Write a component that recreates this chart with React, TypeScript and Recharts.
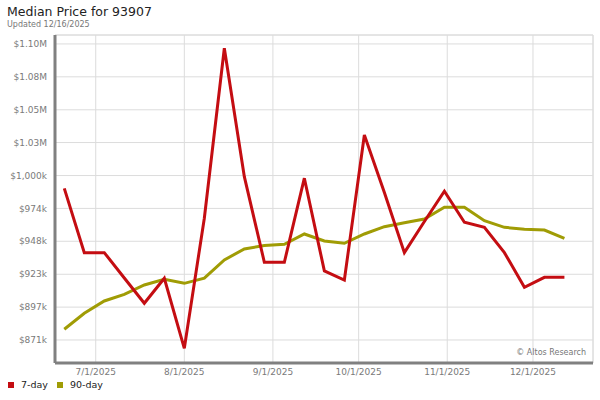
import React from 'react';
import { LineChart, Line, XAxis, YAxis, CartesianGrid, ReferenceLine } from 'recharts';

const dates = [
  '2025-06-20', '2025-06-27', '2025-07-04', '2025-07-11', '2025-07-18', '2025-07-25',
  '2025-08-01', '2025-08-08', '2025-08-15', '2025-08-22', '2025-08-29', '2025-09-05',
  '2025-09-12', '2025-09-19', '2025-09-26', '2025-10-03', '2025-10-10', '2025-10-17',
  '2025-10-24', '2025-10-31', '2025-11-07', '2025-11-14', '2025-11-21', '2025-11-28',
  '2025-12-05', '2025-12-12',
];

const sevenDay = [
  989800, 939500, 939500, 919700, 899900, 919500, 864700, 966400, 1099300, 998900,
  932000, 932000, 997700, 925200, 918100, 1031500, 986600, 939500, 963900, 987500,
  963300, 959300, 939500, 912400, 920200, 920200,
];

const ninetyDay = [
  879600, 892100, 901700, 906900, 914200, 918700, 915500, 919500, 933800, 942400,
  945000, 946000, 954100, 948600, 946800, 954100, 959800, 962900, 965800, 975000,
  975000, 964500, 959300, 957800, 957200, 950700,
];

const monthTicks = ['2025-07-01', '2025-08-01', '2025-09-01', '2025-10-01', '2025-11-01', '2025-12-01'];
const priceTicks = [871200, 896900, 922600, 948400, 974100, 999800, 1025600, 1051200, 1077000, 1102700];

const RED = '#c40d12';
const OLIVE = '#a09c05';
const DAY = 86400000;

const toTime = (s: string) => Date.parse(s + 'T00:00:00Z');

const data = dates.map((d, i) => ({ t: toTime(d), sevenDay: sevenDay[i], ninetyDay: ninetyDay[i] }));

const xMin = toTime(dates[0]) - 3.25 * DAY;
const xMax = toTime(dates[0]) + 185 * DAY;
const yMin = 853200;
const yMax = 1109700;

const fmtDate = (v: number) => {
  const d = new Date(v);
  return `${d.getUTCMonth() + 1}/${d.getUTCDate()}/${d.getUTCFullYear()}`;
};

const fmtPrice = (v: number) =>
  v >= 1000000 ? `$${(v / 1000000).toFixed(2)}M` : `$${Math.round(v / 1000).toLocaleString('en-US')}k`;

const font = '"DejaVu Sans", Verdana, sans-serif';
const tickStyle = { fontSize: 9, fill: '#7a7a7a', fontFamily: font };

const legendItems = [
  { name: '7-day', color: RED },
  { name: '90-day', color: OLIVE },
];

export default function App() {
  return (
    <div style={{ position: 'absolute', left: 0, top: 0, width: 600, height: 400, fontFamily: font, background: '#fff' }}>
      <div style={{ position: 'absolute', left: 7, top: 4, fontSize: 12.5, color: '#222', whiteSpace: 'nowrap' }}>
        Median Price for 93907
      </div>
      <div style={{ position: 'absolute', left: 7, top: 20, fontSize: 8, color: '#777', whiteSpace: 'nowrap' }}>
        Updated 12/16/2025
      </div>
      <LineChart width={600} height={400} data={data} margin={{ top: 35, right: 7, left: 0, bottom: 15 }}>
        <CartesianGrid stroke="#dcdcdc" />
        <XAxis
          dataKey="t"
          type="number"
          scale="linear"
          domain={[xMin, xMax]}
          ticks={monthTicks.map(toTime)}
          tickFormatter={fmtDate}
          tick={tickStyle}
          tickLine={false}
          tickSize={4}
          axisLine={{ stroke: '#808080', strokeWidth: 3 }}
          height={22}
          allowDataOverflow
        />
        <YAxis
          type="number"
          domain={[yMin, yMax]}
          ticks={priceTicks}
          tickFormatter={fmtPrice}
          tick={tickStyle}
          tickLine={false}
          axisLine={{ stroke: '#808080', strokeWidth: 3 }}
          width={55}
          allowDataOverflow
        />
        <ReferenceLine y={yMax} stroke="#dcdcdc" />
        <ReferenceLine x={xMax} stroke="#dcdcdc" />
        <Line type="linear" dataKey="ninetyDay" stroke={OLIVE} strokeWidth={3} dot={false} isAnimationActive={false} />
        <Line type="linear" dataKey="sevenDay" stroke={RED} strokeWidth={3} dot={false} isAnimationActive={false} />
      </LineChart>
      <div style={{ position: 'absolute', right: 14, top: 348, fontSize: 8, color: '#777', whiteSpace: 'nowrap' }}>
        © Altos Research
      </div>
      <div style={{ position: 'absolute', left: 8, top: 379, display: 'flex', fontSize: 9.5, color: '#222' }}>
        {legendItems.map((it) => (
          <div key={it.name} style={{ display: 'flex', alignItems: 'center', marginRight: 9 }}>
            <span style={{ display: 'inline-block', width: 6, height: 6, background: it.color, marginRight: 7 }} />
            <span>{it.name}</span>
          </div>
        ))}
      </div>
    </div>
  );
}
